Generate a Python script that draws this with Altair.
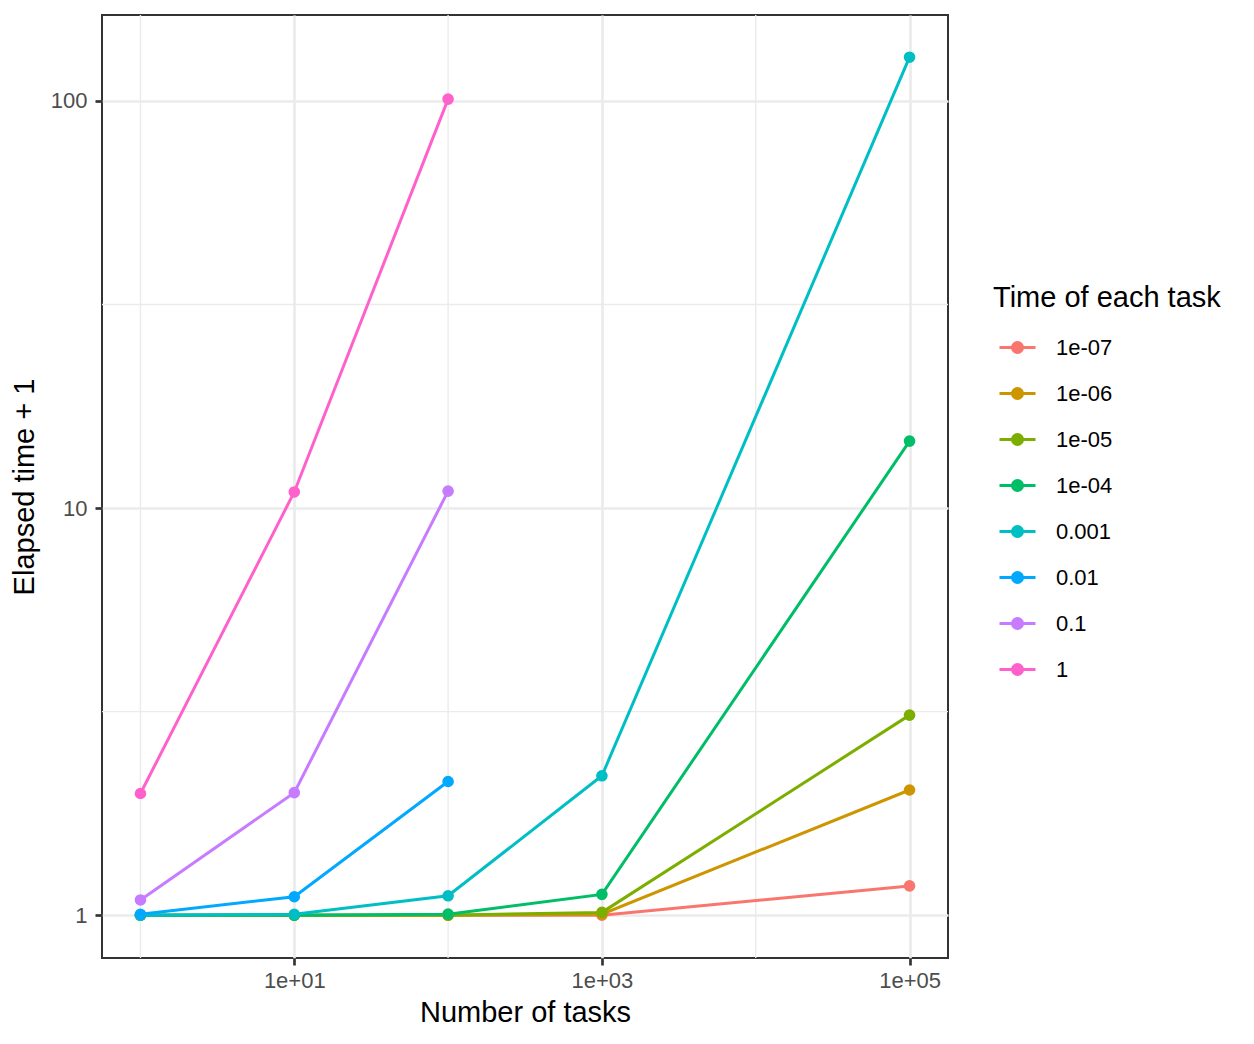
import altair as alt
import pandas as pd

# ---- data ----
tasks = [1, 10, 100, 1000, 100000]
levels = ["1e-07", "1e-06", "1e-05", "1e-04", "0.001", "0.01", "0.1", "1"]
colors = ["#F8766D", "#CD9600", "#7CAE00", "#00BE67", "#00BFC4", "#00A9FF", "#C77CFF", "#FF61CC"]

elapsed_1e07 = [1.0, 1.0, 1.0, 1.0, 1.18]
elapsed_1e06 = [1.0, 1.0, 1.0, 1.006, 2.03]
elapsed_1e05 = [1.0, 1.0, 1.0, 1.016, 3.10]
elapsed_1e04 = [1.0, 1.0, 1.006, 1.125, 14.6]
elapsed_0001 = [1.0, 1.005, 1.116, 2.2, 128.0]
elapsed_001 = [1.005, 1.11, 2.13]
elapsed_01 = [1.09, 2.0, 11.0]
elapsed_1 = [1.99, 10.95, 101.0]

series = [elapsed_1e07, elapsed_1e06, elapsed_1e05, elapsed_1e04,
          elapsed_0001, elapsed_001, elapsed_01, elapsed_1]

x_major = [10, 1000, 100000]
x_minor = [1, 100, 10000]
y_major = [1, 10, 100]
y_minor = [3.1623, 31.623]

rows = []
for lvl, vals in zip(levels, series):
    for t, v in zip(tasks, vals):
        rows.append({"tasks": t, "elapsed": v, "level": lvl})
df = pd.DataFrame(rows)

FONT = "Liberation Sans"
GRID = "#EBEBEB"
TITLE_SIZE = 29

xscale = alt.Scale(type="log", domain=[0.5623, 177828], nice=False, zero=False)
yscale = alt.Scale(type="log", domain=[0.785, 162.5], nice=False, zero=False)

legend = alt.Legend(
    title="Time of each task",
    orient="none",
    legendX=891,
    legendY=269,
    titleFont=FONT,
    titleFontSize=TITLE_SIZE,
    titleFontWeight="normal",
    titleColor="black",
    titleLimit=400,
    titlePadding=15,
    labelFont=FONT,
    labelFontSize=22,
    labelColor="black",
    labelOffset=19,
    symbolType="M-1,0L1,0M0.28,0A0.28,0.28,0,1,1,-0.28,0A0.28,0.28,0,1,1,0.28,0Z",
    symbolSize=1296,
    symbolStrokeWidth=3,
    symbolOpacity=1,
    symbolOffset=5,
    rowPadding=15,
    padding=0,
)

x_axis = alt.Axis(
    values=x_major,
    labelExpr="'1e+0' + round(log(datum.value) / LN10)",
    title="Number of tasks",
    grid=True, gridColor=GRID, gridWidth=2.67,
    domain=False,
    ticks=True, tickColor="#333333", tickWidth=2.67, tickSize=7,
    labelFont=FONT, labelFontSize=22, labelColor="#4D4D4D", labelPadding=5,
    titleFont=FONT, titleFontSize=TITLE_SIZE, titleFontWeight="normal", titleColor="black",
    titlePadding=7,
)
y_axis = alt.Axis(
    values=y_major,
    labelExpr="'' + datum.value",
    title="Elapsed time + 1",
    grid=True, gridColor=GRID, gridWidth=2.67,
    domain=False,
    ticks=True, tickColor="#333333", tickWidth=2.67, tickSize=7,
    labelFont=FONT, labelFontSize=22, labelColor="#4D4D4D", labelPadding=8,
    titleFont=FONT, titleFontSize=TITLE_SIZE, titleFontWeight="normal", titleColor="black",
    titlePadding=11,
)

X = alt.X("tasks:Q", scale=xscale, axis=x_axis)
Y = alt.Y("elapsed:Q", scale=yscale, axis=y_axis)

minor_x = alt.Chart(pd.DataFrame({"tasks": x_minor})).mark_rule(
    color=GRID, strokeWidth=1.4
).encode(x=X)

minor_y = alt.Chart(pd.DataFrame({"elapsed": y_minor})).mark_rule(
    color=GRID, strokeWidth=1.4
).encode(y=Y)

cscale = alt.Scale(domain=levels, range=colors)

base = alt.Chart(df).encode(x=X, y=Y)
lines = base.mark_line(strokeWidth=3, opacity=1).encode(
    stroke=alt.Stroke("level:N", scale=cscale, sort=levels, legend=legend)
)
points = base.mark_point(filled=True, size=135, opacity=1, strokeWidth=0).encode(
    fill=alt.Fill("level:N", scale=cscale, sort=levels, legend=legend)
)

chart = alt.layer(minor_x, minor_y, lines, points).properties(
    width=846,
    height=943,
    background="white",
    autosize=alt.AutoSizeParams(type="none"),
    padding={"left": 94, "top": 7, "right": 290, "bottom": 70},
).configure_view(
    stroke="#333333", strokeWidth=2
)

chart.save("out.html", embed_options={"renderer": "svg", "actions": False})
